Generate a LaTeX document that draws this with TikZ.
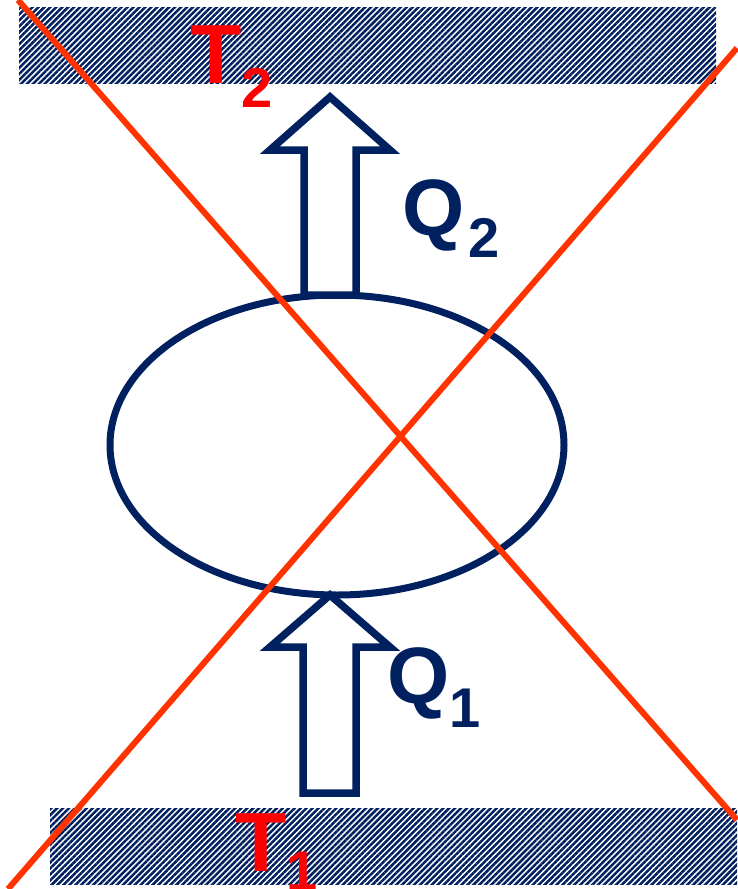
\documentclass[tikz,border=0pt]{standalone}
\usepackage{fontspec}
\setmainfont{Liberation Sans}
\usetikzlibrary{shapes.geometric,patterns.meta}
\definecolor{navy}{HTML}{002060}
\definecolor{crossred}{HTML}{FF3300}
\definecolor{labelred}{HTML}{FF0000}
\tikzset{
  reservoir/.style={preaction={fill=white}, pattern={Lines[angle=45,distance=4.2pt,line width=2.5pt]}, pattern color=navy},
  heatarrow/.style={draw=navy, fill=white, line width=7.5pt, line join=miter},
  crossline/.style={crossred, line width=6pt},
  tlabel/.style={text=labelred, font=\bfseries, inner sep=0pt, anchor=base west},
  qlabel/.style={text=navy, font=\bfseries, inner sep=0pt, anchor=base west},
}
\begin{document}
\begin{tikzpicture}[x=1pt, y=-1pt]
  \useasboundingbox (0,0) rectangle (737,889);

  % Hot and cold reservoirs
  \fill[reservoir] (19,7) rectangle (716,83);
  \fill[reservoir] (50,808) rectangle (737,884);
  \node[tlabel] (t2) at (190,83) {\fontsize{84}{84}\selectfont T\raisebox{-24pt}{\fontsize{56}{56}\selectfont 2}};
  \node[tlabel] (t1) at (235,871) {\fontsize{84}{84}\selectfont T\raisebox{-19pt}{\fontsize{56}{56}\selectfont 1}};

  % Engine
  \node[draw=navy, line width=7pt, ellipse, inner sep=0pt, minimum width=454pt, minimum height=300pt] (engine) at (337,445) {};

  % Heat flows
  \draw[heatarrow] (304,295) -- (304,150) -- (270,150) -- (330,97) -- (390,150) -- (356,150) -- (356,295) -- cycle;
  \draw[heatarrow] (303,793) -- (303,647) -- (270,647) -- (330,595) -- (390,647) -- (356,647) -- (356,793) -- cycle;
  \node[qlabel] (q2) at (402,235) {\fontsize{80}{80}\selectfont Q\kern4pt\raisebox{-22pt}{\fontsize{56}{56}\selectfont 2}};
  \node[qlabel] (q1) at (387,703) {\fontsize{80}{80}\selectfont Q\raisebox{-24pt}{\fontsize{56}{56}\selectfont 1}};

  % Crossed out
  \draw[crossline] (18,0) -- (737,820);
  \draw[crossline] (8,889) -- (737,48);
\end{tikzpicture}
\end{document}
